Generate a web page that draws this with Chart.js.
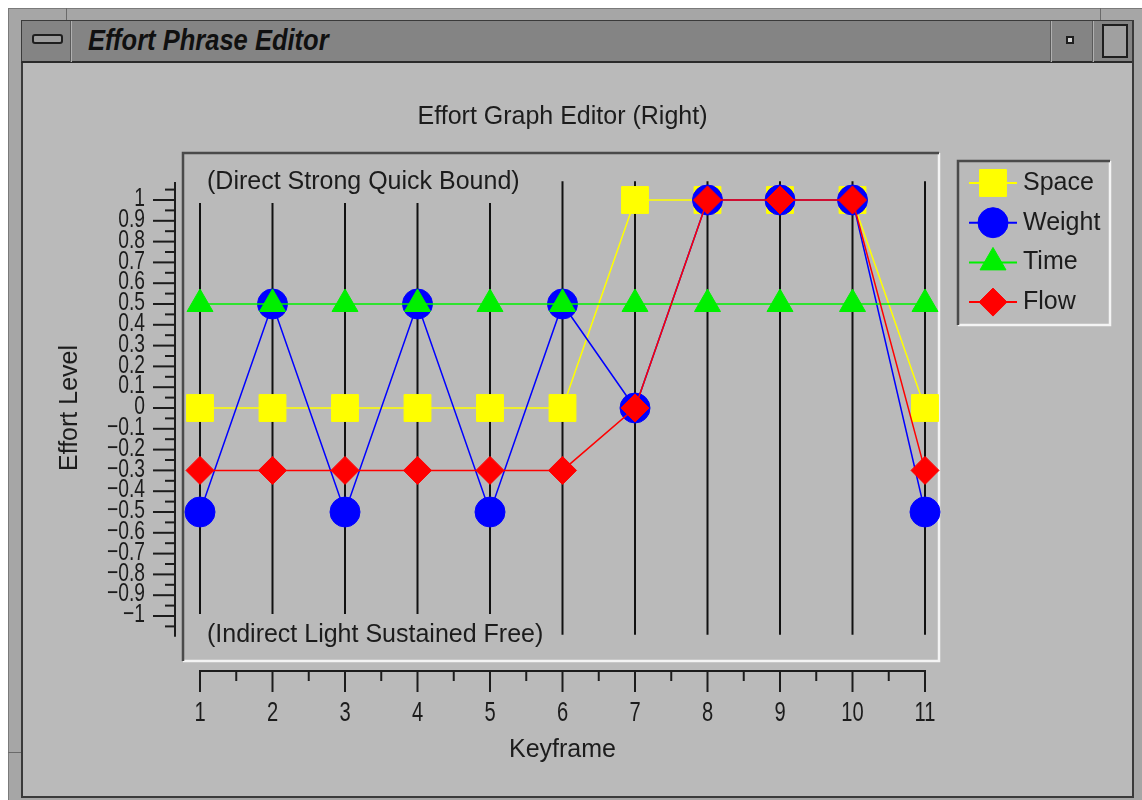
<!DOCTYPE html>
<html>
<head>
<meta charset="utf-8">
<title>Effort Phrase Editor</title>
<script src="https://cdn.jsdelivr.net/npm/chart.js@4/dist/chart.umd.min.js"></script>
<style>
  html, body { margin:0; padding:0; }
  body { width:1142px; height:800px; position:relative; overflow:hidden; background:#ffffff;
         font-family:'Liberation Sans', Arial, Helvetica, sans-serif; }
  .abs { position:absolute; box-sizing:border-box; }
  #outer { left:8px; top:8px; width:1134px; height:792px; background:#a6a6a6; border-left:1px solid #7a7a7a; border-top:1px solid #7a7a7a; }
  #titlebar { left:21px; top:20px; width:1111px; height:43px; background:#848484; border-top:1px solid #3a3a3a; border-left:1px solid #3a3a3a; border-bottom:2px solid #2a2a2a; }
  #content { left:21px; top:63px; width:1111px; height:735px; background:#bababa; border-left:2px solid #3a3a3a; border-bottom:2px solid #3a3a3a; }
  #rightedge { left:1132px; top:20px; width:2px; height:778px; background:#3a3a3a; }
  .groove { width:2px; height:41px; top:21px; border-left:1px solid #5a5a5a; border-right:1px solid #b0b0b0; }
  #minbtn { left:32px; top:34px; width:31px; height:10px; background:#9c9c9c; border:2px solid #1e1e1e; border-radius:3px; }
  #smallbtn { left:1066px; top:36px; width:8px; height:8px; background:#d0d0d0; border:2px solid #1e1e1e; }
  #bigbtn { left:1102px; top:24px; width:26px; height:34px; background:#a0a0a0; border:2px solid #1e1e1e; }
  #wtitle { left:88px; top:21px; height:38px; line-height:38px; font-size:29px; font-weight:bold; font-style:italic;
            color:#101010; white-space:nowrap; transform-origin:0 50%; transform:scaleX(0.88); }
  #notch1 { left:66px; top:8px; width:1px; height:12px; background:#6a6a6a; }
  #notch2 { left:1100px; top:8px; width:1px; height:12px; background:#6a6a6a; }
  #notch3 { left:8px; top:752px; width:13px; height:1px; background:#6a6a6a; }
  #chart { position:absolute; left:0; top:0; }
</style>
</head>
<body>
<div class="abs" id="outer"></div>
<div class="abs" id="notch1"></div>
<div class="abs" id="notch2"></div>
<div class="abs" id="notch3"></div>
<div class="abs" id="titlebar"></div>
<div class="abs groove" style="left:70px"></div>
<div class="abs groove" style="left:1050px"></div>
<div class="abs groove" style="left:1092px"></div>
<div class="abs" id="minbtn"></div>
<div class="abs" id="smallbtn"></div>
<div class="abs" id="bigbtn"></div>
<div class="abs" id="wtitle">Effort Phrase Editor</div>
<div class="abs" id="content"></div>
<div class="abs" id="rightedge"></div>
<canvas id="chart" width="1142" height="800"></canvas>
<script>
// ---------------- data ----------------
const keyframes = [1, 2, 3, 4, 5, 6, 7, 8, 9, 10, 11];
const xTickLabels = ['1', '2', '3', '4', '5', '6', '7', '8', '9', '10', '11'];
const spaceValues  = [0, 0, 0, 0, 0, 0, 1, 1, 1, 1, 0];
const weightValues = [-0.5, 0.5, -0.5, 0.5, -0.5, 0.5, 0, 1, 1, 1, -0.5];
const timeValues   = [0.5, 0.5, 0.5, 0.5, 0.5, 0.5, 0.5, 0.5, 0.5, 0.5, 0.5];
const flowValues   = [-0.3, -0.3, -0.3, -0.3, -0.3, -0.3, 0, 1, 1, 1, -0.3];
const seriesNames  = ['Space', 'Weight', 'Time', 'Flow'];
const yTickValues  = [1, 0.9, 0.8, 0.7, 0.6, 0.5, 0.4, 0.3, 0.2, 0.1, 0, -0.1, -0.2, -0.3, -0.4, -0.5, -0.6, -0.7, -0.8, -0.9, -1];
const yMinorTicks  = [1.05, 0.95, 0.85, 0.75, 0.65, 0.55, 0.45, 0.35, 0.25, 0.15, 0.05, -0.05, -0.15, -0.25, -0.35, -0.45, -0.55, -0.65, -0.75, -0.85, -0.95, -1.05];
const yTickLabels  = ['1', '0.9', '0.8', '0.7', '0.6', '0.5', '0.4', '0.3', '0.2', '0.1', '0',
                      '\u22120.1', '\u22120.2', '\u22120.3', '\u22120.4', '\u22120.5', '\u22120.6', '\u22120.7', '\u22120.8', '\u22120.9', '\u22121'];
const chartTitle  = 'Effort Graph Editor (Right)';
const xAxisTitle  = 'Keyframe';
const yAxisTitle  = 'Effort Level';
const topNote     = '(Direct Strong Quick Bound)';
const bottomNote  = '(Indirect Light Sustained Free)';

// ---------------- styles ----------------
const FONT = "'Liberation Sans', Arial, Helvetica, sans-serif";
const INK = '#1c1c1c';
const BG = '#bababa';
const seriesStyle = [
  { color: '#ffff00', shape: 'rect',     radius: 19, order: 4 },
  { color: '#0000ff', shape: 'circle',   radius: 15, order: 3 },
  { color: '#00f000', shape: 'triangle', radius: 15, order: 2 },
  { color: '#ff0000', shape: 'rectRot',  radius: 14, order: 1 }
];
const seriesValues = [spaceValues, weightValues, timeValues, flowValues];

function drawMarker(ctx, shape, r, cx, cy, color) {
  ctx.save();
  ctx.fillStyle = color; ctx.strokeStyle = color; ctx.lineWidth = 1;
  ctx.beginPath();
  if (shape === 'rect') {
    const s = r * Math.SQRT1_2;
    ctx.rect(cx - s, cy - s, 2 * s, 2 * s);
  } else if (shape === 'circle') {
    ctx.arc(cx, cy, r, 0, Math.PI * 2);
  } else if (shape === 'triangle') {
    ctx.moveTo(cx, cy - r);
    ctx.lineTo(cx + r * Math.sin(2 * Math.PI / 3), cy - r * Math.cos(2 * Math.PI / 3));
    ctx.lineTo(cx + r * Math.sin(4 * Math.PI / 3), cy - r * Math.cos(4 * Math.PI / 3));
    ctx.closePath();
  } else {
    ctx.moveTo(cx, cy - r); ctx.lineTo(cx + r, cy); ctx.lineTo(cx, cy + r); ctx.lineTo(cx - r, cy); ctx.closePath();
  }
  ctx.fill(); ctx.stroke();
  ctx.restore();
}

function etched(ctx, x1, y1, x2, y2, w) {
  ctx.save();
  ctx.lineWidth = w;
  ctx.strokeStyle = '#f4f4f4';
  ctx.beginPath(); ctx.moveTo(x2, y1); ctx.lineTo(x2, y2); ctx.lineTo(x1, y2); ctx.stroke();
  ctx.strokeStyle = '#4a4a4a';
  ctx.beginPath(); ctx.moveTo(x1, y2); ctx.lineTo(x1, y1); ctx.lineTo(x2, y1); ctx.stroke();
  ctx.restore();
}

function narrowText(ctx, text, x, y, sx) {
  ctx.save();
  ctx.translate(x, y);
  ctx.scale(sx, 1);
  ctx.fillText(text, 0, 0);
  ctx.restore();
}

const decor = {
  id: 'decor',
  beforeDatasetsDraw(chart) {
    const ctx = chart.ctx;
    const xs = chart.scales.x, ys = chart.scales.y;
    const px = v => xs.getPixelForValue(v);
    const py = v => ys.getPixelForValue(v);
    const x1 = px(keyframes[0]), x11 = px(keyframes[keyframes.length - 1]);
    const yTop = py(1), yBot = py(-1), y0 = py(0);
    ctx.save();

    // chart title
    ctx.fillStyle = INK;
    ctx.font = '25px ' + FONT;
    ctx.textAlign = 'center'; ctx.textBaseline = 'middle';
    ctx.fillText(chartTitle, (x1 + x11) / 2, yTop - 83);

    // plot frame
    etched(ctx, x1 - 17, yTop - 47, x11 + 14, yBot + 45, 2.5);

    // vertical keyframe lines
    ctx.strokeStyle = '#111';
    ctx.lineWidth = 2;
    keyframes.forEach(k => {
      ctx.beginPath(); ctx.moveTo(px(k), py(1.09)); ctx.lineTo(px(k), py(-1.09)); ctx.stroke();
    });

    // notes with background boxes
    ctx.font = '25px ' + FONT;
    ctx.textAlign = 'left';
    [[topNote, yTop - 18], [bottomNote, yBot + 19]].forEach(([t, ty]) => {
      const w = ctx.measureText(t).width;
      ctx.fillStyle = BG;
      ctx.fillRect(x1 - 5, ty - 21, w + 17, 42);
      ctx.fillStyle = INK;
      ctx.fillText(t, x1 + 7, ty);
    });

    // x axis
    const ax = yBot + 55;
    ctx.strokeStyle = INK; ctx.lineWidth = 2;
    ctx.beginPath(); ctx.moveTo(x1 - 1, ax); ctx.lineTo(x11 + 1, ax); ctx.stroke();
    keyframes.forEach((k, i) => {
      ctx.beginPath(); ctx.moveTo(px(k), ax); ctx.lineTo(px(k), ax + 21); ctx.stroke();
      if (i < keyframes.length - 1) {
        const m = (k + keyframes[i + 1]) / 2;
        ctx.beginPath(); ctx.moveTo(px(m), ax); ctx.lineTo(px(m), ax + 10); ctx.stroke();
      }
    });
    ctx.fillStyle = INK;
    ctx.font = '28px ' + FONT;
    ctx.textAlign = 'center'; ctx.textBaseline = 'middle';
    keyframes.forEach((k, i) => narrowText(ctx, xTickLabels[i], px(k), ax + 42, 0.72));
    ctx.font = '25px ' + FONT;
    ctx.fillText(xAxisTitle, (x1 + x11) / 2, ax + 79);

    // y axis
    const ayx = x1 - 25;
    ctx.beginPath(); ctx.moveTo(ayx, py(1.087)); ctx.lineTo(ayx, py(-1.1)); ctx.stroke();
    yTickValues.forEach(v => {
      ctx.beginPath(); ctx.moveTo(ayx, py(v)); ctx.lineTo(ayx - 22, py(v)); ctx.stroke();
    });
    yMinorTicks.forEach(v => { ctx.beginPath(); ctx.moveTo(ayx, py(v)); ctx.lineTo(ayx - 10, py(v)); ctx.stroke(); });
    ctx.font = '26px ' + FONT;
    ctx.textAlign = 'right'; ctx.textBaseline = 'middle';
    yTickValues.forEach((v, i) => narrowText(ctx, yTickLabels[i], ayx - 30, py(v) - 1, 0.74));

    ctx.save();
    ctx.translate(x1 - 130, y0);
    ctx.rotate(-Math.PI / 2);
    ctx.font = '25px ' + FONT;
    ctx.textAlign = 'center';
    ctx.fillText(yAxisTitle, 0, 0);
    ctx.restore();

    // legend
    const lx1 = x11 + 33, lx2 = x11 + 185, ly1 = yTop - 39, ly2 = yTop + 125;
    etched(ctx, lx1, ly1, lx2, ly2, 2.5);
    ctx.font = '25px ' + FONT;
    ctx.textAlign = 'left'; ctx.textBaseline = 'middle';
    seriesNames.forEach((name, i) => {
      const iy = ly1 + 22 + i * 39.7;
      const st = seriesStyle[i];
      ctx.strokeStyle = st.color; ctx.lineWidth = 2;
      ctx.beginPath(); ctx.moveTo(lx1 + 11, iy); ctx.lineTo(lx1 + 59, iy); ctx.stroke();
      drawMarker(ctx, st.shape, st.radius, lx1 + 35, iy, st.color);
      ctx.fillStyle = INK;
      ctx.fillText(name, lx1 + 65, iy);
    });
    ctx.restore();
  }
};

const datasets = seriesNames.map((name, i) => ({
  label: name,
  data: keyframes.map((k, j) => ({ x: k, y: seriesValues[i][j] })),
  borderColor: seriesStyle[i].color,
  backgroundColor: seriesStyle[i].color,
  borderWidth: 1.5,
  pointStyle: seriesStyle[i].shape,
  pointRadius: seriesStyle[i].radius,
  pointHoverRadius: seriesStyle[i].radius,
  pointBackgroundColor: seriesStyle[i].color,
  pointBorderColor: seriesStyle[i].color,
  pointBorderWidth: 1,
  tension: 0,
  clip: false,
  order: seriesStyle[i].order
}));

new Chart(document.getElementById('chart'), {
  type: 'line',
  data: { datasets },
  options: {
    responsive: false,
    animation: false,
    devicePixelRatio: 1,
    layout: { padding: { left: 200, right: 217, top: 200, bottom: 184 } },
    scales: {
      x: { type: 'linear', min: 1, max: 11, display: false },
      y: { type: 'linear', min: -1, max: 1, display: false }
    },
    plugins: { legend: { display: false }, title: { display: false }, tooltip: { enabled: false } },
    events: []
  },
  plugins: [decor]
});
</script>
</body>
</html>
